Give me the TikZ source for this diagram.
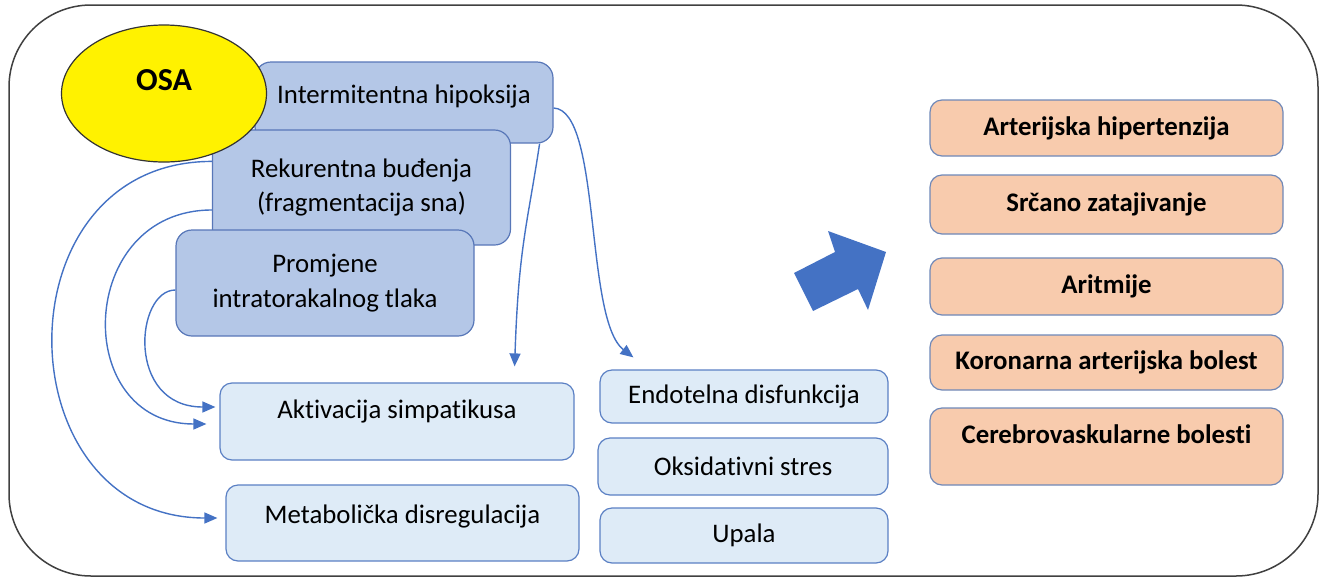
\documentclass[tikz,border=0pt]{standalone}
\usepackage{fontspec}
\setmainfont{Carlito}[Ligatures=NoCommon]
\usetikzlibrary{arrows.meta,shapes.geometric}

\definecolor{mechfill}{HTML}{B4C7E7}
\definecolor{mechline}{HTML}{5877B8}
\definecolor{effectfill}{HTML}{DEEBF7}
\definecolor{effectline}{HTML}{5B80C4}
\definecolor{peach}{HTML}{F8CBAD}
\definecolor{peachline}{HTML}{6F88B8}
\definecolor{linkblue}{HTML}{4472C4}

\tikzset{
  mechbox/.style={draw=mechline, fill=mechfill, line width=1.2pt, rounded corners=16pt,
    align=center, font=\fontsize{26.8}{34.5}\selectfont},
  effectbox/.style={draw=effectline, fill=effectfill, line width=1.2pt, rounded corners=12pt,
    align=center, font=\fontsize{26.8}{34}\selectfont},
  diseasebox/.style={draw=peachline, fill=peach, line width=1.2pt, rounded corners=12pt,
    minimum width=353pt, align=center, font=\fontsize{26.8}{34}\selectfont\bfseries},
  link/.style={draw=linkblue, line width=1.4pt, -{Triangle[length=13pt,width=11pt]}}
}

\begin{document}
\begin{tikzpicture}[x=1pt,y=-1pt]
  \useasboundingbox (0,0) rectangle (1325,579);

  % frame
  \draw[line width=1.5pt, black!75, rounded corners=82pt] (9,5) rectangle (1318,576);

  % mechanisms
  \node[mechbox, minimum width=298pt, minimum height=81pt, text depth=16pt] (hip) at (404,102.5) {Intermitentna hipoksija};
  \node[mechbox, minimum width=298pt, minimum height=115pt] (rek) at (361.5,187.5) {Rekurentna buđenja\\(fragmentacija sna)};
  \node[mechbox, minimum width=298pt, minimum height=106pt] (prom) at (325,283) {Promjene\\intratorakalnog tlaka};
  \node[ellipse, draw=black!80, fill=yellow, line width=1.2pt, minimum width=205pt, minimum height=137pt,
    text depth=26pt, font=\fontsize{32}{36}\selectfont\bfseries] (osa) at (164,93.5) {OSA};

  % consequences
  \node[effectbox, minimum width=354pt, minimum height=77pt, text depth=24pt] (akt) at (397,421.5) {Aktivacija simpatikusa};
  \node[effectbox, minimum width=353pt, minimum height=76pt, text depth=17pt] (met) at (402.5,523) {Metabolička disregulacija};
  \node[effectbox, minimum width=288pt, minimum height=53pt] (endo) at (744,396.5) {Endotelna disfunkcija};
  \node[effectbox, minimum width=290pt, minimum height=57pt] (oks) at (743,466.5) {Oksidativni stres};
  \node[effectbox, minimum width=288pt, minimum height=55pt] (upa) at (744,535.5) {Upala};

  % diseases
  \node[diseasebox, minimum height=56pt] (hta) at (1106.5,128) {Arterijska hipertenzija};
  \node[diseasebox, minimum height=59pt] (srce) at (1106.5,204.5) {Srčano zatajivanje};
  \node[diseasebox, minimum height=57pt] (arit) at (1106.5,286.5) {Aritmije};
  \node[diseasebox, minimum height=55pt] (kor) at (1106.5,362.5) {Koronarna arterijska bolest};
  \node[diseasebox, minimum height=77pt, text depth=24pt] (cvb) at (1106.5,446.5) {Cerebrovaskularne bolesti};

  % block arrow
  \fill[linkblue] (794,273) -- (835,252) -- (828,231) -- (886,252) -- (868,310) -- (858,289) -- (813,311) -- cycle;

  % links
  \draw[link] ([yshift=-32pt]rek.north west) .. controls +(-215,0) and +(-215,0) .. ([xshift=-8pt,yshift=5pt]met.west);
  \draw[link] ([yshift=-22.5pt]rek.west) .. controls +(-136,0) and +(-136,0) .. ([xshift=-13pt,yshift=-2.5pt]akt.west);
  \draw[link] ([yshift=-7pt]prom.west) .. controls +(-40,0) and +(-90,0) .. ([xshift=-4pt,yshift=14.5pt]akt.west);
  \draw[link] ([xshift=-14pt]hip.south east) .. controls +(-12,80) and +(4,-120) .. ([xshift=-60pt,yshift=16pt]akt.north east);
  \draw[link] ([yshift=-5.5pt]hip.east) .. controls +(48,2) and +(-49,-38) .. ([xshift=34pt,yshift=12pt]endo.north west);
\end{tikzpicture}
\end{document}
